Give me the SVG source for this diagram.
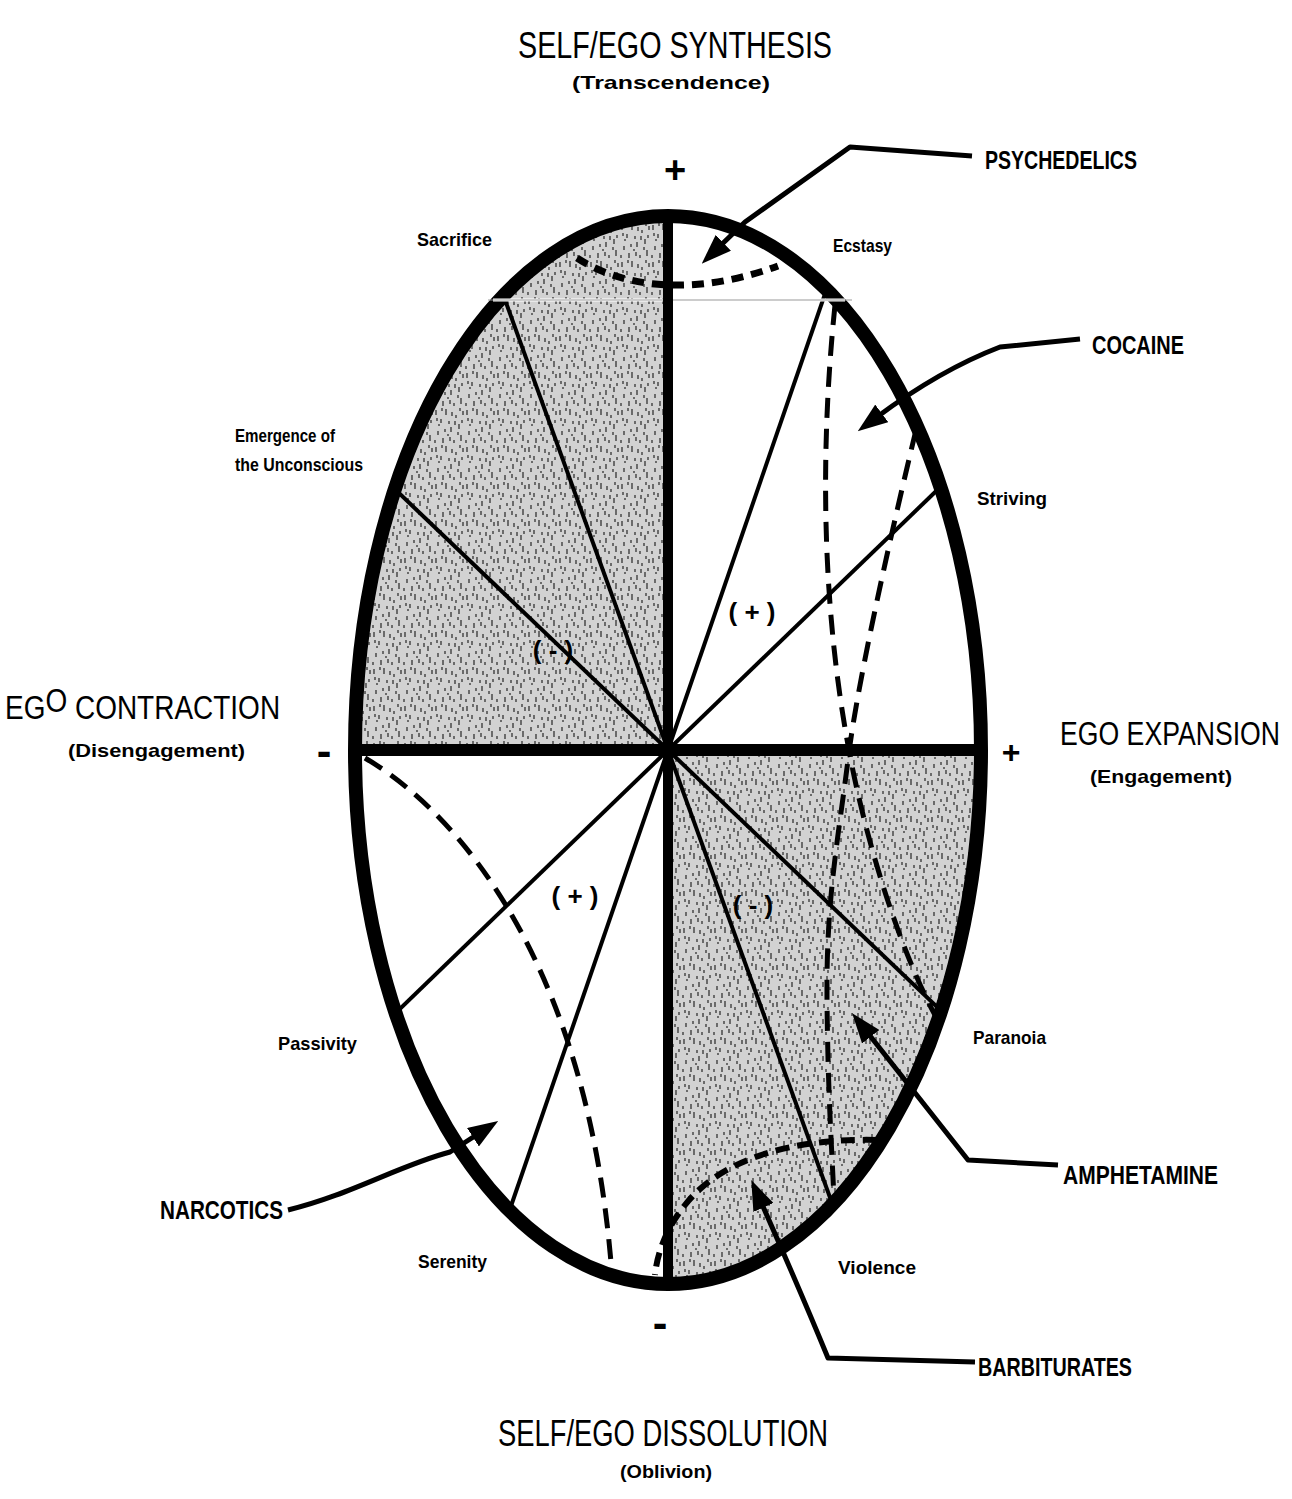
<svg xmlns="http://www.w3.org/2000/svg" width="1292" height="1499" viewBox="0 0 1292 1499">
<style>
.big{font-family:"Liberation Sans",Arial,sans-serif;font-size:36px;fill:#000}
.axt{font-family:"Liberation Sans",Arial,sans-serif;font-size:34px;fill:#000}
.sub{font-family:"Liberation Sans",Arial,sans-serif;font-weight:bold;font-size:19px;fill:#000}
.lbl{font-family:"Liberation Sans",Arial,sans-serif;font-weight:bold;font-size:19px;fill:#000}
.drug{font-family:"Liberation Sans",Arial,sans-serif;font-weight:bold;font-size:25px;fill:#000}
.sign{font-family:"Liberation Sans",Arial,sans-serif;font-weight:bold;fill:#000;text-anchor:middle}
.pm{font-family:"Liberation Sans",Arial,sans-serif;font-weight:bold;font-size:26px;fill:#000;text-anchor:middle}
.spoke{stroke:#000;stroke-width:4;fill:none}
.dash{stroke:#000;stroke-width:5;fill:none;stroke-dasharray:20 11}
.ptr{stroke:#000;stroke-width:5;fill:none;stroke-linejoin:round;marker-end:url(#ah)}
</style>
<defs>
<marker id="ah" viewBox="0 0 30 22" markerWidth="30" markerHeight="22" markerUnits="userSpaceOnUse" refX="6" refY="11" orient="auto">
<path d="M0,0 L30,11 L0,22 z" fill="#000"/>
</marker>
<pattern id="stip" width="31" height="37" patternUnits="userSpaceOnUse">
<rect width="31" height="37" fill="#d2d2d2"/>
<path d="M2,3v5M7,12v4M12,2v6M17,20v5M22,8v3M27,28v6M4,24v4M9,31v5M15,14v3M20,33v3M25,17v5M29,4v4M11,22v3M5,17v2M18,5v4M24,25v3M14,27v2M28,13v3M1,33v3M8,1v3M21,14v4M3,11v3M26,1v3M16,30v4" stroke="#333" stroke-width="1.3"/>
</pattern>
<clipPath id="ell"><ellipse cx="668" cy="750" rx="313" ry="534"/></clipPath>
</defs>
<rect width="1292" height="1499" fill="#fff"/>

<g id="shading" clip-path="url(#ell)">
<rect x="340" y="200" width="328" height="550" fill="url(#stip)"/>
<rect x="668" y="750" width="330" height="550" fill="url(#stip)"/>
</g>

<g id="connectors">
<g id="spokes" clip-path="url(#ell)">
<line class="spoke" x1="899" y1="79" x2="437" y2="1421"/>
<line class="spoke" x1="424" y1="76" x2="912" y2="1424"/>
<line class="spoke" x1="1076" y1="356" x2="260" y2="1144"/>
<line class="spoke" x1="268" y1="368" x2="1068" y2="1132"/>
</g>
<path class="dash" d="M577,258 C620,286 690,298 778,266" style="stroke-width:7;stroke-dasharray:12 8"/>
<path class="dash" d="M835,305 C818,470 825,620 848,745 C865,840 900,950 935,1015"/>
<path class="dash" d="M916,430 C880,580 855,700 848,760 C838,840 826,900 827,1000 C828,1100 832,1150 834,1200"/>
<path class="dash" d="M365,758 C470,820 590,980 612,1275"/>
<path class="dash" d="M877,1140 C790,1138 720,1160 685,1205 C665,1230 657,1255 655,1275" style="stroke-width:6;stroke-dasharray:14 8"/>
<ellipse id="rim" cx="668" cy="750" rx="313" ry="534" fill="none" stroke="#000" stroke-width="14"/>
<line x1="493" y1="300" x2="845" y2="300" stroke="#fff" stroke-width="3"/>
<line x1="488" y1="300" x2="852" y2="300" stroke="#999" stroke-width="1"/>
<line id="vaxis" x1="668" y1="216" x2="668" y2="1284" stroke="#000" stroke-width="10"/>
<line id="haxis" x1="356" y1="750" x2="980" y2="750" stroke="#000" stroke-width="12"/>
<path class="ptr" d="M972,156 L850,147 L745,222 L719,247"/>
<path class="ptr" d="M1080,339 L1000,347 Q940,370 877,417"/>
<path class="ptr" d="M1058,1165 L968,1160 L867,1032"/>
<path class="ptr" d="M975,1362 L828,1358 Q800,1290 761,1202"/>
<path class="ptr" d="M288,1210 C350,1195 400,1165 450,1152 L478,1134"/>
</g>

<g id="titles">
<text class="big" x="518" y="58" textLength="314" lengthAdjust="spacingAndGlyphs">SELF/EGO SYNTHESIS</text>
<text class="sub" x="572" y="89" textLength="198" lengthAdjust="spacingAndGlyphs">(Transcendence)</text>
<text class="big" x="498" y="1446" textLength="330" lengthAdjust="spacingAndGlyphs">SELF/EGO DISSOLUTION</text>
<text class="sub" x="620" y="1478" textLength="92" lengthAdjust="spacingAndGlyphs">(Oblivion)</text>
<text class="axt" transform="translate(5,719) scale(0.823,1)" x="0" y="0">EG<tspan dy="-7">O</tspan><tspan dy="7"> CONTRACTION</tspan></text>
<text class="sub" x="68" y="757" textLength="177" lengthAdjust="spacingAndGlyphs">(Disengagement)</text>
<text class="axt" transform="translate(1060,745) scale(0.784,1)" x="0" y="0">EGO EXPANSION</text>
<text class="sub" x="1090" y="783" textLength="142" lengthAdjust="spacingAndGlyphs">(Engagement)</text>
</g>

<g id="signs">
<text class="sign" x="675" y="183" font-size="38">+</text>
<text class="sign" x="1011" y="763" font-size="32">+</text>
<text class="sign" x="324" y="766" font-size="44">-</text>
<text class="sign" x="660" y="1338" font-size="44">-</text>
<text class="pm" x="553" y="659">( - )</text>
<text class="pm" x="752" y="621">( + )</text>
<text class="pm" x="575" y="905">( + )</text>
<text class="pm" x="753" y="914">( - )</text>
</g>

<g id="labels">
<text class="lbl" x="417" y="246" textLength="75" lengthAdjust="spacingAndGlyphs">Sacrifice</text>
<text class="lbl" x="833" y="252" textLength="59" lengthAdjust="spacingAndGlyphs">Ecstasy</text>
<text class="lbl" x="235" y="442" textLength="100" lengthAdjust="spacingAndGlyphs">Emergence of</text>
<text class="lbl" x="235" y="471" textLength="128" lengthAdjust="spacingAndGlyphs">the Unconscious</text>
<text class="lbl" x="977" y="505" textLength="70" lengthAdjust="spacingAndGlyphs">Striving</text>
<text class="lbl" x="278" y="1050" textLength="79" lengthAdjust="spacingAndGlyphs">Passivity</text>
<text class="lbl" x="973" y="1044" textLength="73" lengthAdjust="spacingAndGlyphs">Paranoia</text>
<text class="lbl" x="418" y="1268" textLength="69" lengthAdjust="spacingAndGlyphs">Serenity</text>
<text class="lbl" x="838" y="1274" textLength="78" lengthAdjust="spacingAndGlyphs">Violence</text>
</g>

<g id="drugs">
<g id="psychedelics"><text class="drug" x="985" y="169" textLength="152" lengthAdjust="spacingAndGlyphs">PSYCHEDELICS</text></g>
<g id="cocaine"><text class="drug" x="1092" y="354" textLength="92" lengthAdjust="spacingAndGlyphs">COCAINE</text></g>
<g id="amphetamine"><text class="drug" x="1063" y="1184" textLength="155" lengthAdjust="spacingAndGlyphs">AMPHETAMINE</text></g>
<g id="barbiturates"><text class="drug" x="978" y="1376" textLength="154" lengthAdjust="spacingAndGlyphs">BARBITURATES</text></g>
<g id="narcotics"><text class="drug" x="160" y="1219" textLength="123" lengthAdjust="spacingAndGlyphs">NARCOTICS</text></g>
</g>
</svg>
